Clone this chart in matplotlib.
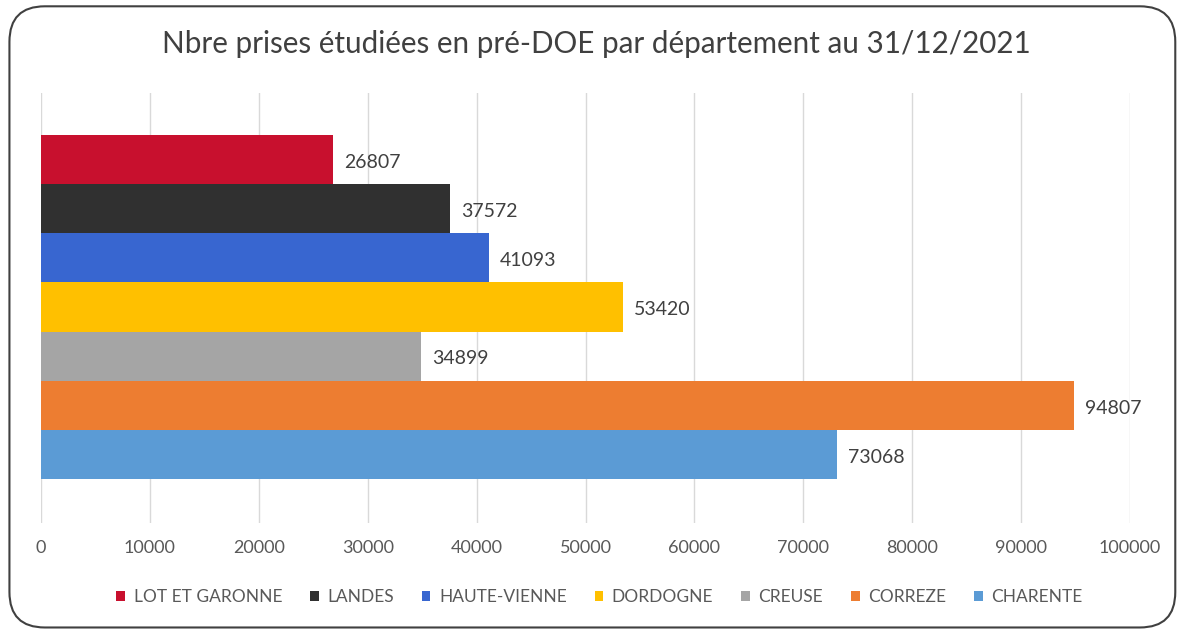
import matplotlib
matplotlib.use("Agg")
import matplotlib.pyplot as plt
from matplotlib.patches import FancyBboxPatch, Patch

plt.rcParams['font.family'] = ['Lato', 'DejaVu Sans']

# donnees
departements = ["LOT ET GARONNE", "LANDES", "HAUTE-VIENNE", "DORDOGNE",
                "CREUSE", "CORREZE", "CHARENTE"]
prises = [26807, 37572, 41093, 53420, 34899, 94807, 73068]
couleurs = ["#C8102E", "#303030", "#3866D0", "#FFC000",
            "#A5A5A5", "#ED7D31", "#5B9BD5"]
ticks = list(range(0, 100001, 10000))

fig = plt.figure(figsize=(11.8, 6.3), dpi=100)

# cadre arrondi
cadre = FancyBboxPatch((0.008, 0.004), 0.988, 0.986,
                       boxstyle="round,pad=0,rounding_size=0.03",
                       transform=fig.transFigure, fill=False,
                       edgecolor="#404040", linewidth=1.5,
                       mutation_aspect=1180 / 630)
fig.patches.append(cadre)

ax = fig.add_axes([0.0347, 0.1698, 0.923, 0.6825])

n = len(departements)
ypos = [n - 1 - i for i in range(n)]
for y, v, c, lab in zip(ypos, prises, couleurs, departements):
    ax.barh(y, v, height=1.0, color=c, label=lab, zorder=3)
    ax.annotate(str(v), xy=(v, y), xytext=(8, -2), textcoords="offset points",
                va="center", ha="left", fontsize=14, color="#404040")

ax.set_xlim(0, 100000)
ax.set_ylim(-1.395, 7.355)
ax.set_xticks(ticks)
ax.set_xticklabels([str(t) for t in ticks], fontsize=13, color="#595959")
ax.set_yticks([])
ax.tick_params(axis="x", length=0, pad=12)
ax.grid(axis="x", color="#D9D9D9", linewidth=1, zorder=0)
for s in ax.spines.values():
    s.set_visible(False)

fig.text(0.505, 0.930, "Nbre prises étudiées en pré-DOE par département au 31/12/2021",
         ha="center", va="center", fontsize=21.3, color="#404040")

handles = [Patch(facecolor=c, label=l) for c, l in zip(couleurs, departements)]
fig.legend(handles=handles, loc="center", bbox_to_anchor=(0.508, 0.052),
           ncol=7, frameon=False, fontsize=12.5, handlelength=0.5, handleheight=0.5,
           handletextpad=0.5, columnspacing=1.6, labelcolor="#595959")

fig.savefig("out.png", dpi=100)
